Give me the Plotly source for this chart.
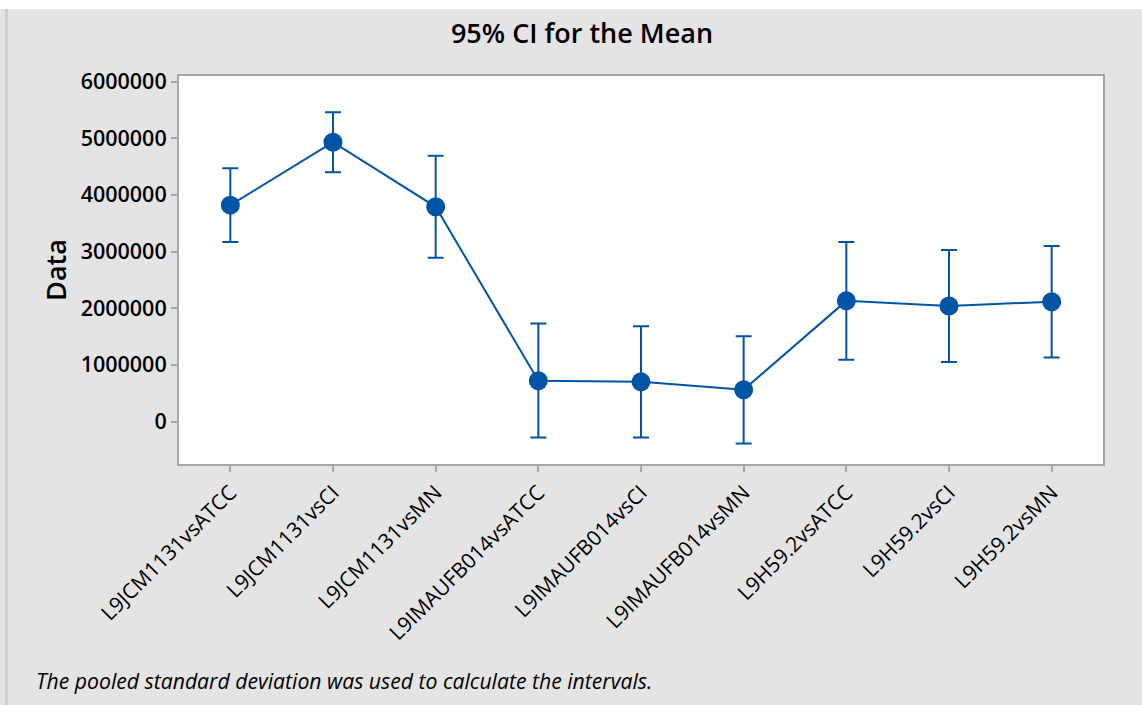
import plotly.graph_objects as go

# Interval plot: group means with 95% confidence intervals (pooled SD)
groups = [
    "L9JCM1131vsATCC", "L9JCM1131vsCI", "L9JCM1131vsMN",
    "L9IMAUFB014vsATCC", "L9IMAUFB014vsCI", "L9IMAUFB014vsMN",
    "L9H59.2vsATCC", "L9H59.2vsCI", "L9H59.2vsMN",
]
means = [3820000, 4930000, 3790000, 720000, 700000, 560000, 2130000, 2040000, 2115000]
ci_upper = [4470000, 5460000, 4690000, 1730000, 1680000, 1506000, 3170000, 3030000, 3100000]
ci_lower = [3170000, 4400000, 2890000, -280000, -280000, -390000, 1090000, 1050000, 1130000]
y_ticks = [0, 1000000, 2000000, 3000000, 4000000, 5000000, 6000000]

err_plus = [u - m for u, m in zip(ci_upper, means)]
err_minus = [m - l for m, l in zip(means, ci_lower)]

BLUE = "#0054A6"
AXIS_GREY = "#A6A6A6"
BG = "#E4E4E4"
FONT = "Open Sans"

fig = go.Figure()
fig.add_trace(go.Scatter(
    x=groups,
    y=means,
    mode="lines+markers",
    line=dict(color=BLUE, width=2),
    marker=dict(color=BLUE, size=19),
    error_y=dict(
        type="data",
        symmetric=False,
        array=err_plus,
        arrayminus=err_minus,
        color=BLUE,
        thickness=2,
        width=8,
    ),
    showlegend=False,
))

W, H = 1142, 705
L, R, T, B = 179, 39, 76, 241
pw, ph = W - L - R, H - T - B


def px_x(x):
    return (x - L) / pw


def px_y(y):
    return (H - B - y) / ph


fig.update_layout(
    width=W,
    height=H,
    margin=dict(l=L, r=R, t=T, b=B, pad=0),
    paper_bgcolor=BG,
    plot_bgcolor="white",
    font=dict(family=FONT, color="black"),
    title=dict(
        text="95% CI for the Mean",
        x=px_x(582), xref="paper", xanchor="center",
        y=1 - 34 / H, yref="container", yanchor="middle",
        font=dict(family=FONT, size=27, weight=600, color="black"),
    ),
    xaxis=dict(
        type="category",
        range=[-0.5, 8.5],
        showline=True, mirror=True, linecolor=AXIS_GREY, linewidth=2,
        ticks="outside", ticklen=6, tickwidth=2, tickcolor=AXIS_GREY,
        tickangle=-45,
        tickfont=dict(family=FONT, size=21, weight=500, color="black"),
        showgrid=False, zeroline=False,
    ),
    yaxis=dict(
        range=[-750000, 6100000],
        tickvals=y_ticks,
        ticktext=[str(v) for v in y_ticks],
        showline=True, mirror=True, linecolor=AXIS_GREY, linewidth=2,
        ticks="outside", ticklen=6, tickwidth=2, tickcolor=AXIS_GREY,
        tickfont=dict(family=FONT, size=21.5, weight=600, color="black"),
        title=dict(text="Data", standoff=6,
                   font=dict(family=FONT, size=27, weight=600, color="black")),
        showgrid=False, zeroline=False,
    ),
    shapes=[
        # white strip across the top of the page
        dict(type="rect", xref="paper", yref="paper",
             x0=px_x(-5), x1=px_x(W + 5), y0=px_y(9), y1=px_y(-5),
             fillcolor="white", line=dict(width=0), layer="below"),
        # darker frame edge on the left
        dict(type="rect", xref="paper", yref="paper",
             x0=px_x(5), x1=px_x(8), y0=px_y(H + 5), y1=px_y(9),
             fillcolor="#CFCFCF", line=dict(width=0), layer="below"),
    ],
    annotations=[
        dict(
            text="<i>The pooled standard deviation was used to calculate the intervals.</i>",
            xref="paper", yref="paper",
            x=px_x(34), y=px_y(680),
            xanchor="left", yanchor="middle",
            showarrow=False,
            font=dict(family=FONT, size=21.2, color="black"),
        )
    ],
)

fig.write_html("out.html")
